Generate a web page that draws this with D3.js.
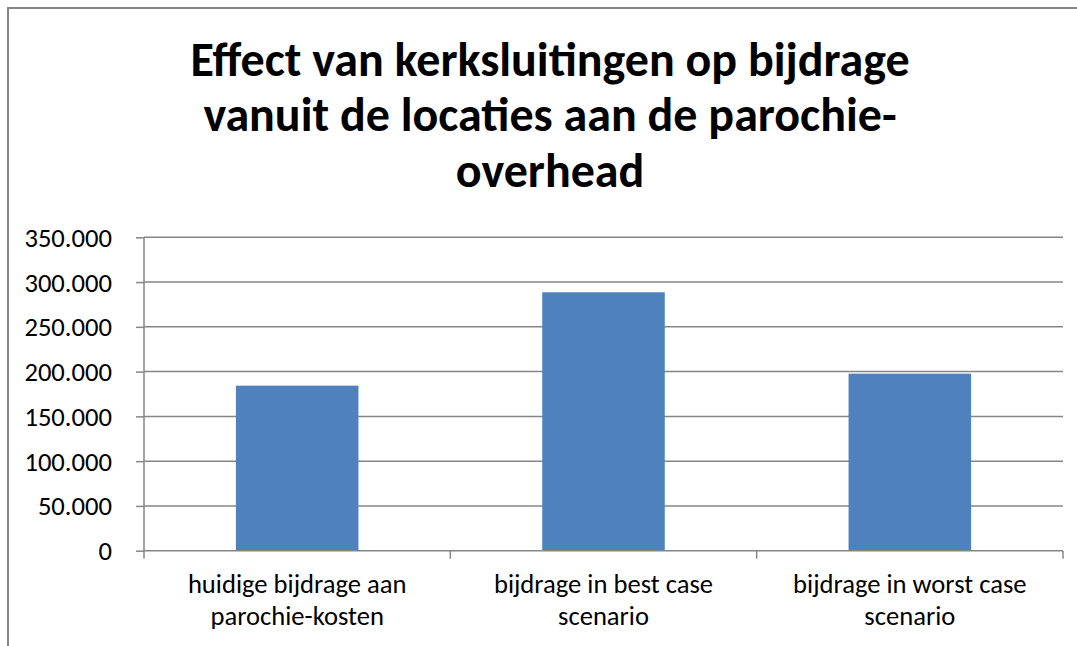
<!DOCTYPE html>
<html>
<head>
<meta charset="utf-8">
<script src="https://cdn.jsdelivr.net/npm/d3@7"></script>
<style>
  body { margin: 0; background: #fff; }
  text { font-family: Calibri, Carlito, Lato, sans-serif; fill: #000; }
</style>
</head>
<body>
<div class="chart"></div>
<script>
// data
const titleLines = ["Effect van kerksluitingen op bijdrage", "vanuit de locaties aan de parochie-", "overhead"];
const categories = ["huidige bijdrage aan parochie-kosten", "bijdrage in best case scenario", "bijdrage in worst case scenario"];
const labelLines = [["huidige bijdrage aan", "parochie-kosten"], ["bijdrage in best case", "scenario"], ["bijdrage in worst case", "scenario"]];
const values = [184300, 288600, 197700];
const yTicks = [0, 50000, 100000, 150000, 200000, 250000, 300000, 350000];

const W = 1077, H = 646;
const nl = d3.formatLocale({decimal: ",", thousands: ".", grouping: [3], currency: ["€", ""]});
const fmt = nl.format(",");

const svg = d3.select(".chart")
              .append("svg")
              .attr("width", W)
              .attr("height", H);

// chart frame (runs off the right and bottom edge)
svg.append("rect")
   .attr("x", 8).attr("y", 8)
   .attr("width", 1200).attr("height", 800)
   .attr("fill", "#fff")
   .attr("stroke", "#868686")
   .attr("stroke-width", 2);

const x = d3.scaleBand()
            .domain(categories)
            .range([144, 1063])
            .paddingInner(0.6)
            .paddingOuter(0.3);

const y = d3.scaleLinear()
            .domain([0, 350000])
            .range([550.7, 237.3]);

// gridlines
svg.append("g")
   .selectAll("line")
   .data(yTicks.slice(1)).enter()
   .append("line")
   .attr("x1", 144).attr("x2", 1063)
   .attr("y1", d => y(d)).attr("y2", d => y(d))
   .attr("stroke", "#868686")
   .attr("stroke-width", 1.5);

// bars
svg.selectAll(".bar")
   .data(values).enter()
   .append("rect")
   .attr("class", "bar")
   .attr("x", (d, i) => x(categories[i]))
   .attr("y", d => y(d))
   .attr("width", x.bandwidth())
   .attr("height", d => y(0) - y(d))
   .attr("fill", "#4F81BD");

// y axis
const yAxis = svg.append("g")
                 .attr("transform", "translate(144,0)")
                 .call(d3.axisLeft(y).tickValues(yTicks).tickFormat(fmt).tickSize(8).tickSizeOuter(0).tickPadding(24));
yAxis.select(".domain").remove();
yAxis.selectAll(".tick line").attr("stroke", "#868686").attr("stroke-width", 1.5);
yAxis.selectAll(".tick text")
     .style("font-size", "26.6px")
     .attr("dy", "0.34em")
     .attr("fill", "#000");
svg.append("line")
   .attr("x1", 144).attr("x2", 144)
   .attr("y1", y(350000)).attr("y2", y(0) + 8)
   .attr("stroke", "#868686").attr("stroke-width", 1.5);

// x axis
const bounds = categories.map(c => x(c) - (x.step() - x.bandwidth()) / 2).concat([1063]);
svg.append("line")
   .attr("x1", 144).attr("x2", 1063)
   .attr("y1", y(0)).attr("y2", y(0))
   .attr("stroke", "#868686").attr("stroke-width", 1.5);
svg.selectAll(".xtick")
   .data(bounds.slice(1)).enter()
   .append("line")
   .attr("x1", d => d).attr("x2", d => d)
   .attr("y1", y(0)).attr("y2", y(0) + 8)
   .attr("stroke", "#868686").attr("stroke-width", 1.5);

const xl = svg.selectAll(".xlabel")
              .data(categories).enter()
              .append("text")
              .attr("class", "xlabel")
              .attr("text-anchor", "middle")
              .style("font-size", "26.6px");
xl.selectAll("tspan")
  .data((d, i) => labelLines[i].map(t => [t, x(d) + x.bandwidth() / 2]))
  .enter()
  .append("tspan")
  .attr("x", d => d[1])
  .attr("y", (d, j) => 593 + j * 32)
  .text(d => d[0]);

// title
svg.append("text")
   .attr("text-anchor", "middle")
   .style("font-size", "48px")
   .style("font-weight", "bold")
   .selectAll("tspan")
   .data(titleLines).enter()
   .append("tspan")
   .attr("x", 550)
   .attr("y", (d, i) => 75.5 + i * 55.5)
   .text(d => d);
</script>
</body>
</html>
